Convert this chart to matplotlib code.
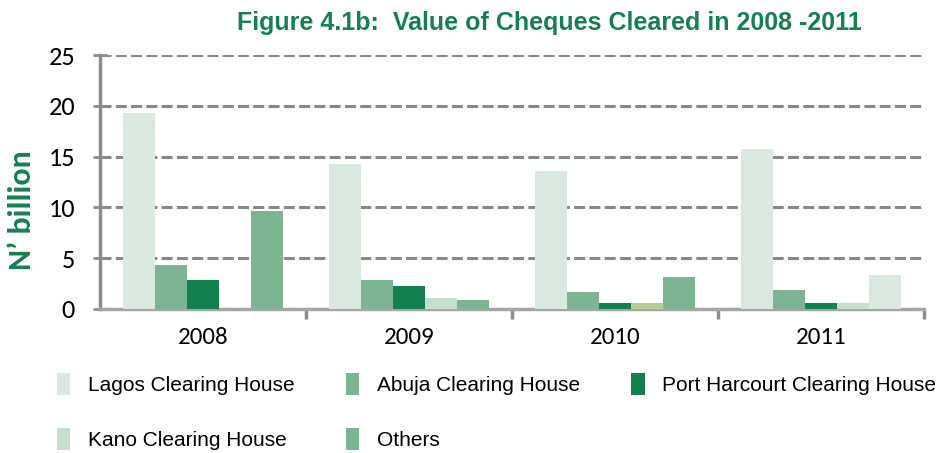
import numpy as np
import matplotlib.pyplot as plt
from matplotlib import font_manager
from matplotlib.patches import Patch

years = ["2008", "2009", "2010", "2011"]
series = ["Lagos Clearing House", "Abuja Clearing House", "Port Harcourt Clearing House",
          "Kano Clearing House", "Others"]
lagos = [19.3, 14.3, 13.6, 15.75]
abuja = [4.35, 2.85, 1.67, 1.87]
port_harcourt = [2.82, 2.26, 0.6, 0.6]
kano = [0.0, 1.08, 0.6, 0.6]
others = [9.65, 0.89, 3.15, 3.35]
values = [lagos, abuja, port_harcourt, kano, others]

base_colors = ["#d9e9df", "#7db592", "#13804d", "#c3e0cc", "#7db592"]
# a few bars in the original have their own shade
bar_colors = [[c] * 4 for c in base_colors]
bar_colors[3][2] = "#b5cc8e"
bar_colors[4][3] = "#d9e9df"

green = "#168150"


def pick(*names):
    avail = {f.name for f in font_manager.fontManager.ttflist}
    for n in names:
        if n in avail:
            return n
    return "DejaVu Sans"


narrow = pick("Liberation Sans Narrow", "Arial Narrow", "Liberation Sans")
tickfont = pick("Carlito", "Lato", "DejaVu Sans")

fig = plt.figure(figsize=(9.47, 4.53), dpi=100)
ax = fig.add_axes([100 / 947, 1 - 309 / 453, 824 / 947, 254 / 453])

x = np.arange(len(years))
w = 0.156
for i, vals in enumerate(values):
    ax.bar(x + (i - 2) * w, vals, w, color=bar_colors[i], zorder=3, linewidth=0)

ax.set_ylim(0, 25)
ax.set_xlim(-0.5, 3.5)
ax.set_yticks([0, 5, 10, 15, 20, 25])
ax.yaxis.grid(True, linestyle=(0, (3.6, 1.4)), color="#888888", linewidth=2.2, zorder=0)
ax.set_xticks(x)
ax.set_xticklabels(years)
ax.tick_params(axis="x", length=0, pad=13, labelsize=18)
ax.set_xticks([0.5, 1.5, 2.5, 3.5], minor=True)
ax.tick_params(axis="x", which="minor", length=7, width=2.5, color="#8c8c8c")
ax.tick_params(axis="y", direction="inout", length=10, width=2, color="#8c8c8c",
               labelsize=19, pad=13)
for lab in ax.get_yticklabels() + ax.get_xticklabels():
    lab.set_family(tickfont)

for s in ["top", "right"]:
    ax.spines[s].set_visible(False)
ax.spines["left"].set_color("#8c8c8c")
ax.spines["left"].set_linewidth(2.5)
ax.spines["bottom"].set_color("#a6a6a6")
ax.spines["bottom"].set_linewidth(2.5)

ax.set_ylabel("N\u2019 billion", fontsize=23, fontweight="bold", color=green,
              family=tickfont)
ax.yaxis.set_label_coords(-0.078, 0.39)

fig.text(0.58, 0.95, "Figure 4.1b:  Value of Cheques Cleared in 2008 -2011",
         ha="center", va="center", fontsize=18, fontweight="bold", color=green,
         family=narrow)

handles = [Patch(facecolor=c, edgecolor="none") for c in base_colors]
order = [0, 3, 1, 4, 2]
fig.legend([handles[i] for i in order], [series[i] for i in order], ncol=3,
           loc="upper left", bbox_to_anchor=(38 / 947, 1 - 354 / 453), frameon=False,
           handlelength=0.65, handleheight=1.3, handletextpad=0.85, columnspacing=2.45,
           labelspacing=1.55, prop={"family": narrow, "size": 15})

fig.savefig("out.png", dpi=100)
